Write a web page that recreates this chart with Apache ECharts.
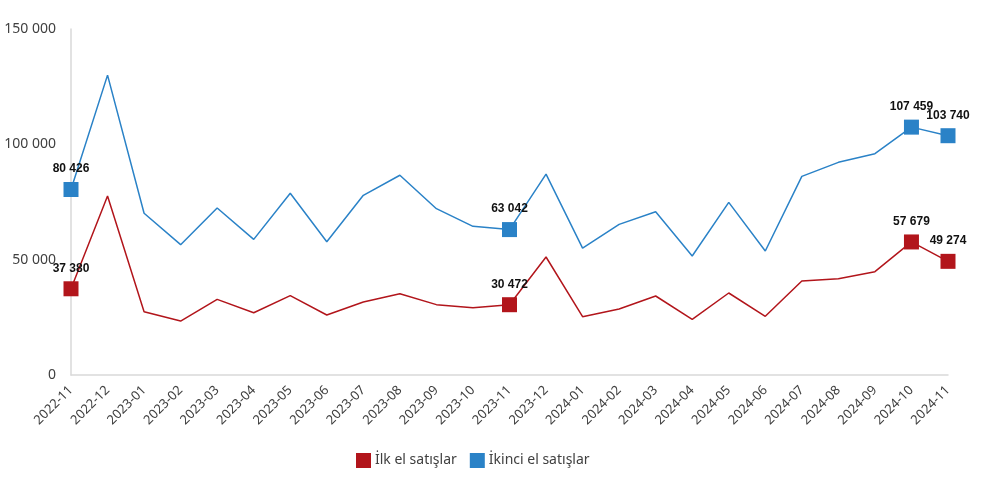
<!DOCTYPE html>
<html>
<head>
<meta charset="utf-8">
<script src="https://cdn.jsdelivr.net/npm/echarts@6/dist/echarts.min.js"></script>
<style>
  html, body { margin: 0; padding: 0; background: #fff; }
  #chart { width: 993px; height: 482px; }
</style>
</head>
<body>
<div id="chart"></div>
<script>
const categories = ['2022-11','2022-12','2023-01','2023-02','2023-03','2023-04','2023-05','2023-06','2023-07','2023-08','2023-09','2023-10','2023-11','2023-12','2024-01','2024-02','2024-03','2024-04','2024-05','2024-06','2024-07','2024-08','2024-09','2024-10','2024-11'];
const firstHand = [37380, 77600, 27450, 23400, 32800, 27000, 34400, 26000, 31650, 35250, 30500, 29200, 30472, 51150, 25300, 28600, 34250, 24100, 35550, 25450, 40750, 41750, 44800, 57679, 49274];
const secondHand = [80426, 130000, 70100, 56500, 72400, 58800, 78800, 57800, 77900, 86600, 72100, 64450, 63042, 87100, 55000, 65300, 70800, 51600, 74850, 53750, 86100, 92200, 95950, 107459, 103740];
const markedIndices = [0, 12, 23, 24];
const seriesNames = ['İlk el satışlar', 'İkinci el satışlar'];
const yTicks = { min: 0, max: 150000, interval: 50000 };

function fmt(v) {
  return String(Math.round(v)).replace(/\B(?=(\d{3})+(?!\d))/g, ' ');
}
function buildData(arr) {
  return arr.map((v, i) => {
    if (markedIndices.indexOf(i) >= 0) {
      return { value: v, symbol: 'rect', symbolSize: 15, label: { show: true } };
    }
    return { value: v, symbol: 'none' };
  });
}

const chart = echarts.init(document.getElementById('chart'));
const labelStyle = {
  show: false,
  position: 'top',
  distance: 7,
  formatter: p => fmt(p.value),
  fontFamily: 'Liberation Sans, Arial, sans-serif',
  fontWeight: 'bold',
  fontSize: 12,
  color: '#111'
};
chart.setOption({
  animation: false,
  grid: { left: 71, right: 45, top: 29, bottom: 107, containLabel: false },
  legend: {
    top: 448,
    left: 351,
    itemWidth: 15,
    itemHeight: 15,
    itemGap: 13,
    icon: 'rect',
    textStyle: { fontFamily: 'Noto Sans, sans-serif', fontSize: 14, color: '#404040', padding: [0, 0, 0, -1] },
    data: seriesNames
  },
  xAxis: {
    type: 'category',
    data: categories,
    boundaryGap: false,
    axisLine: { lineStyle: { color: '#d9d9d9', width: 1.5 } },
    axisTick: { show: false },
    axisLabel: {
      rotate: 45,
      interval: 0,
      margin: 13,
      fontFamily: 'Noto Sans, sans-serif',
      fontSize: 13,
      color: '#404040'
    }
  },
  yAxis: {
    type: 'value',
    min: yTicks.min,
    max: yTicks.max,
    interval: yTicks.interval,
    axisLine: { show: true, lineStyle: { color: '#d9d9d9', width: 1.5 } },
    axisTick: { show: false },
    splitLine: { show: false },
    axisLabel: {
      margin: 15,
      fontFamily: 'Noto Sans, sans-serif',
      fontSize: 14,
      color: '#404040',
      formatter: v => fmt(v)
    }
  },
  series: [
    {
      name: seriesNames[0],
      type: 'line',
      data: buildData(firstHand),
      showAllSymbol: true,
      symbol: 'rect',
      symbolSize: 15,
      itemStyle: { color: '#B2151B' },
      lineStyle: { color: '#B2151B', width: 1.5 },
      label: labelStyle,
      z: 3
    },
    {
      name: seriesNames[1],
      type: 'line',
      data: buildData(secondHand),
      showAllSymbol: true,
      symbol: 'rect',
      symbolSize: 15,
      itemStyle: { color: '#2A82C7' },
      lineStyle: { color: '#2A82C7', width: 1.5 },
      label: labelStyle,
      z: 2
    }
  ]
});
</script>
</body>
</html>
